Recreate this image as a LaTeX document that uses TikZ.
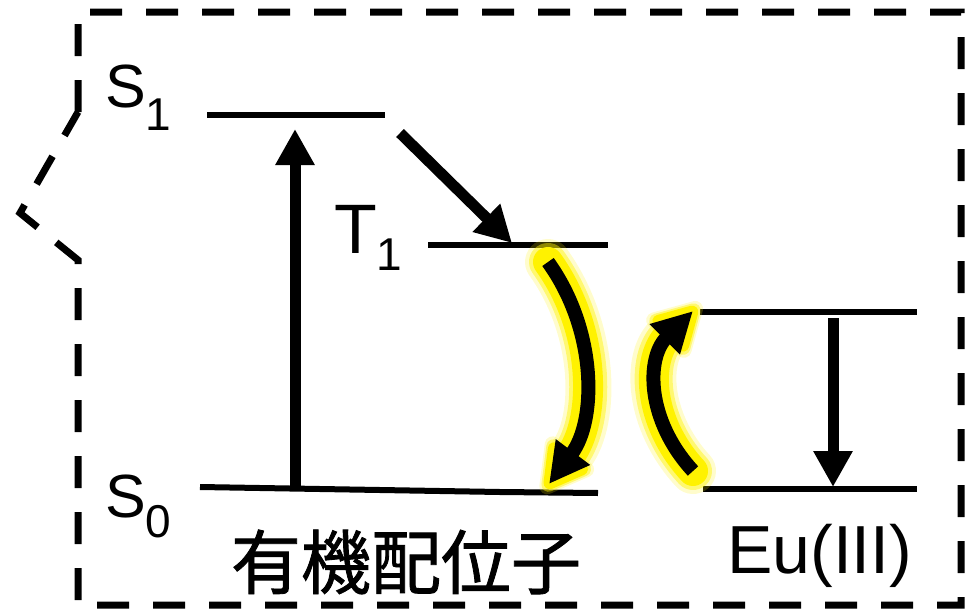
\documentclass[tikz,border=0pt]{standalone}
\usepackage{fontspec}
\setmainfont{Liberation Sans}
\newfontfamily\cjkfont{Noto Sans CJK JP}[FakeBold=1.2]
\usetikzlibrary{arrows.meta}

\newcommand{\lvsub}[2][20pt]{\raisebox{-#1}{\fontsize{46}{46}\selectfont #2}}

\begin{document}
\begin{tikzpicture}[x=1pt, y=-1pt,
    level/.style={line width=6pt},
    jump/.style={line width=11pt, -{Triangle[length=36pt,width=37pt]}},
    glowjump/.style={line width=14pt, -{Triangle[length=40pt,width=40pt]},
        preaction={draw=yellow, opacity=0.2, line width=46pt, line cap=round, shorten >=-11pt, -{Triangle[length=62pt,width=64pt,round]}},
        preaction={draw=yellow, opacity=0.45, line width=38pt, line cap=round, shorten >=-8pt, -{Triangle[length=56pt,width=58pt,round]}},
        preaction={draw=yellow, line width=30pt, line cap=round, shorten >=-5pt, -{Triangle[length=50pt,width=52pt,round]}}},
    lvlabel/.style={inner sep=0pt, font=\fontsize{61}{70}\selectfont}]
    \useasboundingbox (0,0) rectangle (975,613);

    % Frame
    \draw[line width=7pt, dash pattern=on 32pt off 24pt] (78,112) -- (78,12) -- (961,12) -- (961,605) -- (78,605) -- (78,260) -- (20,213) -- cycle;

    % Levels
    \coordinate (s1a) at (207,115);
    \coordinate (s1b) at (385,115);
    \coordinate (t1a) at (428,245);
    \coordinate (t1b) at (608,245);
    \coordinate (s0a) at (200,487);
    \coordinate (s0m) at (500,492);
    \coordinate (s0b) at (598,493);
    \coordinate (eua) at (700,312);
    \coordinate (eub) at (917,312);
    \coordinate (eoa) at (703,489);
    \coordinate (eob) at (917,489);
    \draw[level] (s1a) -- (s1b);
    \draw[level] (t1a) -- (t1b);
    \draw[level] (s0a) -- (s0m) -- (s0b);
    \draw[level] (eua) -- (eub);
    \draw[level] (eoa) -- (eob);

    % Labels
    \node[lvlabel, anchor=base west] (s1lbl) at (105,107) {S\lvsub[23pt]{1}};
    \node[lvlabel, anchor=base west, font=\fontsize{70}{70}\selectfont] (t1lbl) at (334,253) {T\lvsub[17pt]{1}};
    \node[lvlabel, anchor=base west] (s0lbl) at (105,517) {S\lvsub[20pt]{0}};
    \node[inner sep=0pt, font=\cjkfont\fontsize{70}{70}\selectfont] (ligand) at (406,562) {有機配位子};
    \node[lvlabel, anchor=base west, font=\fontsize{68}{70}\selectfont] (eu) at (727,573) {Eu(III)};

    % Transitions
    \coordinate (absa) at (295,487);
    \coordinate (absb) at (295,129);
    \coordinate (isca) at (400,133);
    \coordinate (iscb) at (512,243);
    \coordinate (ema) at (833,318);
    \coordinate (emb) at (833,487);
    \coordinate (bta) at (548,262);
    \coordinate (btb) at (549,484);
    \coordinate (eta) at (693,471);
    \coordinate (etb) at (693,311);
    \draw[jump] (absa) -- (absb);
    \draw[jump] (isca) -- (iscb);
    \draw[jump] (ema) -- (emb);
    \draw[glowjump] (bta) .. controls (597,330) and (597,420) .. (btb);
    \draw[glowjump] (eta) .. controls (646,420) and (646,358) .. (etb);
\end{tikzpicture}
\end{document}
